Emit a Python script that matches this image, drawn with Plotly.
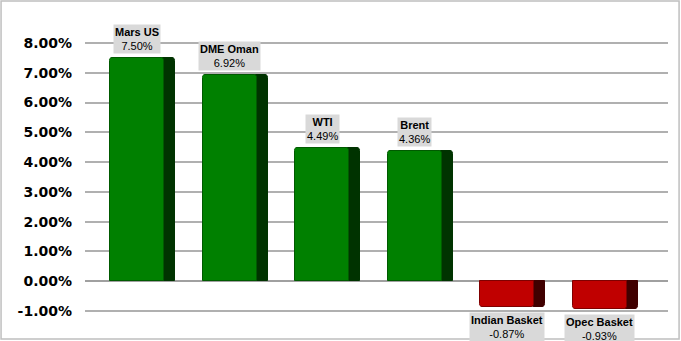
import plotly.graph_objects as go

categories = ["Mars US", "DME Oman", "WTI", "Brent", "Indian Basket", "Opec Basket"]
values = [7.50, 6.92, 4.49, 4.36, -0.87, -0.93]
tick_vals = [-1, 0, 1, 2, 3, 4, 5, 6, 7, 8]
tick_text = [f"{v:.2f}%" for v in tick_vals]

xs = list(range(len(categories)))
front_colors = ["#008000" if v >= 0 else "#c00000" for v in values]
side_colors = ["#003300" if v >= 0 else "#400000" for v in values]
edge_colors = ["#005a00" if v >= 0 else "#800000" for v in values]

FRONT_OFF, FRONT_W = -0.351, 0.583
SIDE_OFF, SIDE_W = 0.232, 0.119

fig = go.Figure()
fig.add_trace(go.Bar(x=xs, y=values, width=SIDE_W + 0.03, offset=SIDE_OFF - 0.03,
                     marker=dict(color=side_colors, line=dict(color=side_colors, width=1), cornerradius=3),
                     hoverinfo="skip", showlegend=False))
fig.add_trace(go.Bar(x=xs, y=values, width=FRONT_W, offset=FRONT_OFF,
                     marker=dict(color=front_colors, line=dict(color=edge_colors, width=1), cornerradius=3),
                     showlegend=False))

for x, c, v in zip(xs, categories, values):
    cx = x + FRONT_OFF + FRONT_W / 2
    fig.add_annotation(x=cx, y=v, text=f"<b>{c}</b><br>{v:.2f}%", showarrow=False,
                       xanchor="center", yanchor="bottom" if v >= 0 else "top",
                       yshift=4 if v >= 0 else -5,
                       bgcolor="#d9d9d9", borderpad=1,
                       font=dict(family="Liberation Sans, Arial", size=11, color="#000000"))

fig.add_shape(type="rect", xref="paper", yref="paper",
              x0=-0.144, x1=1.019, y0=-0.0095, y1=1.060,
              line=dict(color="#bfbfbf", width=1.5), layer="below")

fig.update_layout(
    width=681, height=341,
    margin=dict(l=85, r=13, t=20, b=5),
    paper_bgcolor="white", plot_bgcolor="white",
    barmode="overlay", bargap=0,
    xaxis=dict(range=[-0.621, 5.675], showticklabels=False, showgrid=False,
               zeroline=False, showline=False, fixedrange=True),
    yaxis=dict(range=[-1.839, 8.772], tickvals=tick_vals, ticktext=tick_text,
               showgrid=True, gridcolor="#b0b0b0", gridwidth=1.5,
               zeroline=True, zerolinecolor="#a0a0a0", zerolinewidth=1.5,
               showline=False, ticks="", ticklabelstandoff=12,
               tickfont=dict(family="DejaVu Sans", size=14, color="#000000", weight="bold")),
)

fig.write_html("out.html")
